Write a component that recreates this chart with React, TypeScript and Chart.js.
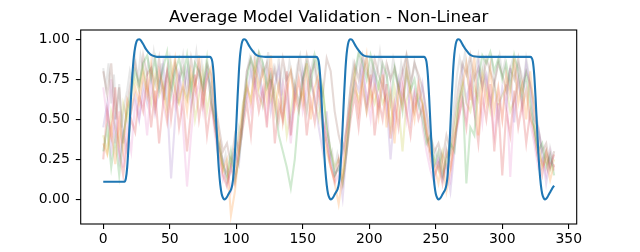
import React, { useEffect, useRef } from "react";
import { Chart, registerables } from "chart.js";

Chart.register(...registerables);

const TITLE = "Average Model Validation - Non-Linear";
const X_TICKS = [0, 50, 100, 150, 200, 250, 300, 350];
const Y_TICKS = [0, 0.25, 0.5, 0.75, 1.0];

// Averaged model output (blue line): x positions and values
const AVG_X = [
  0, 16, 17, 18, 19, 20, 21, 22, 23, 24, 25, 26, 27, 28, 30, 32, 34, 36, 39, 42,
  80, 81, 82, 83, 84, 85, 86, 87, 88, 89, 90, 91, 92, 93, 94, 95, 96, 97, 98, 99,
  100, 101, 102, 103, 104, 105, 106, 107, 108, 110, 112, 114, 116, 119, 122,
  160, 161, 162, 163, 164, 165, 166, 167, 168, 169, 170, 171, 172, 173, 174, 175, 176, 177, 178, 179,
  180, 181, 182, 183, 184, 185, 186, 187, 188, 190, 192, 194, 196, 199, 202,
  241, 242, 243, 244, 245, 246, 247, 248, 249, 250, 251, 252, 253, 254, 255, 256, 257, 258, 259, 260,
  261, 262, 263, 264, 265, 266, 267, 268, 269, 271, 273, 275, 277, 280, 283,
  321, 322, 323, 324, 325, 326, 327, 328, 329, 330, 331, 332, 333, 334, 335, 336, 337, 338, 339,
];
const AVG_Y = [
  0.11, 0.11, 0.13, 0.2, 0.33, 0.5, 0.66, 0.79, 0.89, 0.95, 0.985, 0.998, 1.0, 0.996, 0.97, 0.94, 0.918, 0.902, 0.893, 0.89,
  0.89, 0.885, 0.86, 0.78, 0.64, 0.47, 0.31, 0.18, 0.09, 0.035, 0.01, 0.0, 0.004, 0.015, 0.03, 0.045, 0.06, 0.09, 0.16, 0.29,
  0.46, 0.64, 0.8, 0.91, 0.97, 0.995, 1.0, 0.997, 0.985, 0.955, 0.93, 0.91, 0.898, 0.892, 0.89,
  0.89, 0.885, 0.86, 0.78, 0.64, 0.47, 0.31, 0.18, 0.09, 0.035, 0.01, 0.0, 0.004, 0.015, 0.03, 0.045, 0.06, 0.09, 0.16, 0.29,
  0.46, 0.64, 0.8, 0.91, 0.97, 0.995, 1.0, 0.997, 0.985, 0.955, 0.93, 0.91, 0.898, 0.892, 0.89,
  0.89, 0.885, 0.86, 0.78, 0.64, 0.47, 0.31, 0.18, 0.09, 0.035, 0.01, 0.0, 0.004, 0.015, 0.03, 0.045, 0.06, 0.09, 0.16, 0.29,
  0.46, 0.64, 0.8, 0.91, 0.97, 0.995, 1.0, 0.997, 0.985, 0.955, 0.93, 0.91, 0.898, 0.892, 0.89,
  0.89, 0.885, 0.86, 0.78, 0.64, 0.47, 0.31, 0.18, 0.09, 0.035, 0.01, 0.0, 0.004, 0.015, 0.03, 0.045, 0.06, 0.075, 0.085,
];

// Individual validation runs, sampled every 3 steps (x = 0, 3, ..., 339)
const SAMPLE_STEP = 3;
const RUN_ORANGE = [
  0.35, 0.28, 0.45, 0.22, 0.5, 0.3, 0.62, 0.55, 0.7, 0.6,
  0.78, 0.65, 0.85, 0.58, 0.8, 0.7, 0.5, 0.75, 0.88, 0.62,
  0.72, 0.55, 0.8, 0.68, 0.9, 0.6, 0.75, 0.82, 0.55, 0.4,
  0.18, 0.25, -0.1, 0.05, 0.3, 0.55, 0.72, 0.6, 0.85, 0.7,
  0.8, 0.62, 0.9, 0.55, 0.72, 0.48, 0.68, 0.8, 0.58, 0.75,
  0.6, 0.85, 0.5, 0.7, 0.78, 0.45, 0.3, 0.2, 0.1, -0.03,
  0.15, 0.4, 0.62, 0.8, 0.55, 0.75, 0.9, 0.6, 0.7, 0.52,
  0.78, 0.45, 0.65, 0.35, 0.7, 0.58, 0.82, 0.65, 0.5, 0.72,
  0.6, 0.45, 0.3, 0.2, 0.1, 0.25, 0.05, 0.18, 0.35, 0.55,
  0.7, 0.85, 0.62, 0.9, 0.4, 0.75, 0.6, 0.82, 0.55, 0.7,
  0.5, 0.78, 0.65, 0.88, 0.6, 0.72, 0.5, 0.8, 0.55, 0.35,
  0.2, 0.25, 0.12, 0.22,
];
const RUN_GREEN = [
  0.3, 0.45, 0.2, 0.38, 0.15, 0.4, 0.55, 0.68, 0.8, 0.72,
  0.85, 0.9, 0.75, 0.88, 0.7, 0.82, 0.92, 0.65, 0.8, 0.88,
  0.75, 0.9, 0.68, 0.85, 0.8, 0.7, 0.88, 0.6, 0.5, 0.35,
  0.22, 0.15, 0.3, 0.12, 0.25, 0.5, 0.75, 0.88, 0.8, 0.92,
  0.85, 0.7, 0.78, 0.6, 0.4, 0.3, 0.2, 0.07, 0.25, 0.55,
  0.75, 0.85, 0.7, 0.9, 0.8, 0.68, 0.45, 0.3, 0.15, 0.2,
  0.1, 0.3, 0.55, 0.78, 0.92, 0.85, 0.75, 0.9, 0.8, 0.7,
  0.85, 0.78, 0.6, 0.82, 0.7, 0.55, 0.8, 0.68, 0.75, 0.6,
  0.5, 0.35, 0.4, 0.22, 0.3, 0.15, 0.25, 0.35, 0.3, 0.6,
  0.7, 0.1, 0.45, 0.4, 0.75, 0.9, 0.85, 0.92, 0.8, 0.88,
  0.75, 0.85, 0.7, 0.9, 0.8, 0.65, 0.78, 0.6, 0.45, 0.3,
  0.35, 0.2, 0.28, 0.15,
];
const RUN_RED = [
  0.25, 0.55, 0.4, 0.7, 0.3, 0.15, 0.35, 0.5, 0.42, 0.65,
  0.55, 0.75, 0.45, 0.68, 0.35, 0.6, 0.8, 0.5, 0.7, 0.45,
  0.62, 0.3, 0.55, 0.78, 0.5, 0.68, 0.4, 0.6, 0.45, 0.3,
  0.15, 0.08, 0.2, 0.1, 0.28, 0.45, 0.6, 0.4, 0.72, 0.55,
  0.68, 0.45, 0.75, 0.35, 0.6, 0.5, 0.8, 0.4, 0.65, 0.55,
  0.72, 0.4, 0.62, 0.48, 0.7, 0.5, 0.35, 0.2, 0.12, 0.25,
  0.1, 0.3, 0.5, 0.65, 0.45, 0.7, 0.55, 0.78, 0.4, 0.62,
  0.5, 0.72, 0.38, 0.6, 0.45, 0.7, 0.55, 0.4, 0.65, 0.5,
  0.58, 0.4, 0.25, 0.15, 0.22, 0.1, 0.3, 0.2, 0.4, 0.5,
  0.62, 0.45, 0.7, 0.55, 0.35, 0.65, 0.5, 0.72, 0.3, 0.6,
  0.15, 0.55, 0.4, 0.68, 0.45, 0.6, 0.35, 0.55, 0.4, 0.25,
  0.15, 0.3, 0.2, 0.28,
];
const RUN_PURPLE = [
  0.45, 0.6, 0.3, 0.5, 0.25, 0.42, 0.3, 0.55, 0.65, 0.5,
  0.72, 0.6, 0.8, 0.55, 0.7, 0.85, 0.62, 0.13, 0.5, 0.78,
  0.65, 0.8, 0.58, 0.72, 0.85, 0.6, 0.78, 0.7, 0.5, 0.32,
  0.25, 0.1, 0.18, 0.3, 0.22, 0.5, 0.65, 0.8, 0.7, 0.85,
  0.6, 0.78, 0.55, 0.72, 0.82, 0.5, 0.68, 0.45, 0.7, 0.6,
  0.8, 0.55, 0.75, 0.62, 0.45, 0.3, 0.55, 0.25, 0.15, 0.2,
  0.01, 0.3, 0.6, 0.75, 0.68, 0.85, 0.6, 0.72, 0.8, 0.55,
  0.7, 0.6, 0.25, 0.55, 0.75, 0.62, 0.8, 0.5, 0.68, 0.58,
  0.72, 0.5, 0.3, 0.2, 0.25, 0.12, 0.2, 0.05, 0.3, 0.55,
  0.8, 0.62, 0.75, 0.55, 0.85, 0.7, 0.78, 0.6, 0.72, 0.5,
  0.7, 0.58, 0.82, 0.48, 0.75, 0.6, 0.85, 0.7, 0.5, 0.45,
  0.3, 0.1, 0.25, 0.2,
];
const RUN_BROWN = [
  0.8, 0.65, 0.85, 0.5, 0.7, 0.35, 0.6, 0.75, 0.85, 0.7,
  0.9, 0.78, 0.82, 0.72, 0.88, 0.65, 0.8, 0.7, 0.85, 0.75,
  0.82, 0.65, 0.88, 0.72, 0.8, 0.68, 0.85, 0.78, 0.6, 0.45,
  0.3, 0.35, 0.22, 0.4, 0.3, 0.55, 0.8, 0.88, 0.75, 0.9,
  0.78, 0.85, 0.7, 0.82, 0.68, 0.88, 0.75, 0.8, 0.65, 0.85,
  0.72, 0.9, 0.78, 0.85, 0.7, 0.65, 0.88, 0.8, 0.55, 0.4,
  0.3, 0.45, 0.7, 0.85, 0.75, 0.9, 0.8, 0.72, 0.88, 0.78,
  0.7, 0.85, 0.75, 0.82, 0.68, 0.8, 0.9, 0.72, 0.85, 0.78,
  0.7, 0.55, 0.4, 0.3, 0.35, 0.25, 0.4, 0.3, 0.5, 0.7,
  0.85, 0.78, 0.9, 0.75, 0.82, 0.7, 0.88, 0.8, 0.72, 0.85,
  0.78, 0.68, 0.82, 0.75, 0.88, 0.7, 0.8, 0.72, 0.6, 0.45,
  0.3, 0.35, 0.2, 0.3,
];
const RUN_PINK = [
  0.7, 0.5, 0.75, 0.35, 0.55, 0.2, 0.45, 0.3, 0.6, 0.5,
  0.65, 0.4, 0.72, 0.55, 0.8, 0.6, 0.48, 0.7, 0.58, 0.75,
  0.45, 0.08, 0.4, 0.65, 0.72, 0.55, 0.8, 0.62, 0.4, 0.25,
  0.12, 0.2, 0.05, 0.15, 0.35, 0.5, 0.68, 0.55, 0.75, 0.62,
  0.7, 0.5, 0.82, 0.6, 0.48, 0.72, 0.58, 0.35, 0.62, 0.75,
  0.55, 0.68, 0.8, 0.6, 0.72, 0.5, 0.4, 0.22, 0.1, 0.15,
  0.25, 0.45, 0.6, 0.72, 0.55, 0.8, 0.65, 0.5, 0.75, 0.6,
  0.82, 0.55, 0.7, 0.45, 0.62, 0.78, 0.5, 0.68, 0.55, 0.72,
  0.45, 0.3, 0.18, 0.1, 0.28, 0.15, 0.22, 0.12, 0.35, 0.48,
  0.65, 0.5, 0.78, 0.6, 0.7, 0.48, 0.75, 0.62, 0.4, 0.68,
  0.5, 0.72, 0.14, 0.6, 0.78, 0.55, 0.7, 0.48, 0.35, 0.2,
  0.25, 0.15, 0.3, 0.18,
];
const RUN_OLIVE = [
  0.4, 0.3, 0.55, 0.45, 0.35, 0.6, 0.5, 0.65, 0.75, 0.68,
  0.82, 0.7, 0.6, 0.78, 0.65, 0.72, 0.58, 0.85, 0.68, 0.6,
  0.7, 0.62, 0.75, 0.5, 0.65, 0.8, 0.55, 0.7, 0.45, 0.3,
  0.2, 0.12, 0.25, 0.18, 0.4, 0.6, 0.7, 0.62, 0.8, 0.65,
  0.58, 0.75, 0.62, 0.7, 0.5, 0.65, 0.4, 0.55, 0.72, 0.6,
  0.68, 0.55, 0.75, 0.62, 0.5, 0.7, 0.45, 0.3, 0.2, 0.25,
  0.15, 0.35, 0.58, 0.7, 0.62, 0.75, 0.55, 0.68, 0.6, 0.72,
  0.6, 0.65, 0.45, 0.7, 0.58, 0.3, 0.62, 0.7, 0.55, 0.65,
  0.6, 0.42, 0.3, 0.25, 0.18, 0.3, 0.2, 0.28, 0.45, 0.62,
  0.75, 0.6, 0.55, 0.7, 0.62, 0.8, 0.68, 0.55, 0.72, 0.6,
  0.65, 0.7, 0.55, 0.62, 0.75, 0.58, 0.68, 0.5, 0.45, 0.3,
  0.22, 0.3, 0.18, 0.25,
];
// One run sampled every 2 steps (x = 0, 2, ..., 338)
const FINE_STEP = 2;
const RUN_GRAY = [
  0.82, 0.7, 0.85, 0.6, 0.78, 0.5, 0.72, 0.45, 0.6, 0.68,
  0.8, 0.72, 0.88, 0.75, 0.9, 0.82, 0.7, 0.86, 0.78, 0.92,
  0.8, 0.7, 0.85, 0.62, 0.78, 0.88, 0.72, 0.84, 0.6, 0.8,
  0.9, 0.75, 0.85, 0.68, 0.8, 0.92, 0.76, 0.85, 0.7, 0.82,
  0.75, 0.6, 0.45, 0.3, 0.35, 0.2, 0.28, 0.15, 0.22, 0.3,
  0.25, 0.45, 0.4, 0.65, 0.8, 0.88, 0.75, 0.9, 0.82, 0.7,
  0.85, 0.78, 0.92, 0.7, 0.82, 0.75, 0.88, 0.65, 0.8, 0.72,
  0.86, 0.78, 0.7, 0.84, 0.9, 0.75, 0.82, 0.68, 0.8, 0.88,
  0.75, 0.6, 0.5, 0.35, 0.4, 0.25, 0.3, 0.18, 0.28, 0.2,
  0.35, 0.3, 0.55, 0.7, 0.85, 0.78, 0.9, 0.72, 0.82, 0.88,
  0.75, 0.85, 0.7, 0.8, 0.92, 0.78, 0.65, 0.82, 0.75, 0.88,
  0.8, 0.7, 0.85, 0.76, 0.9, 0.82, 0.72, 0.86, 0.78, 0.7,
  0.6, 0.45, 0.35, 0.4, 0.25, 0.3, 0.2, 0.28, 0.15, 0.32,
  0.25, 0.45, 0.6, 0.78, 0.88, 0.8, 0.92, 0.75, 0.85, 0.7,
  0.82, 0.9, 0.76, 0.85, 0.7, 0.8, 0.88, 0.74, 0.82, 0.9,
  0.78, 0.86, 0.7, 0.82, 0.88, 0.75, 0.85, 0.8, 0.72, 0.88,
  0.78, 0.6, 0.45, 0.3, 0.38, 0.22, 0.3, 0.2, 0.32, 0.25,
];

const RUNS: [number[], number, string][] = [
  [RUN_ORANGE, SAMPLE_STEP, "rgba(255,127,14,0.22)"],
  [RUN_GREEN, SAMPLE_STEP, "rgba(44,160,44,0.22)"],
  [RUN_RED, SAMPLE_STEP, "rgba(214,39,40,0.22)"],
  [RUN_PURPLE, SAMPLE_STEP, "rgba(148,103,189,0.22)"],
  [RUN_BROWN, SAMPLE_STEP, "rgba(140,86,75,0.22)"],
  [RUN_PINK, SAMPLE_STEP, "rgba(227,119,194,0.22)"],
  [RUN_GRAY, FINE_STEP, "rgba(127,127,127,0.18)"],
  [RUN_OLIVE, SAMPLE_STEP, "rgba(188,189,34,0.22)"],
];

const FONT = "DejaVu Sans";

const framePlugin = {
  id: "mplFrame",
  afterDraw(chart: any) {
    const { ctx, chartArea } = chart;
    ctx.save();
    ctx.strokeStyle = "#000";
    ctx.lineWidth = 1.1;
    ctx.strokeRect(
      chartArea.left,
      chartArea.top,
      chartArea.right - chartArea.left,
      chartArea.bottom - chartArea.top
    );
    ctx.font = `16.7px "${FONT}"`;
    ctx.fillStyle = "#000";
    ctx.textAlign = "center";
    ctx.textBaseline = "alphabetic";
    ctx.fillText(TITLE, (chartArea.left + chartArea.right) / 2, chartArea.top - 8.3);
    ctx.restore();
  },
};

export default function App() {
  const ref = useRef<HTMLCanvasElement>(null);
  useEffect(() => {
    const runDatasets = RUNS.map(([vals, step, color]) => ({
      data: vals.map((v, i) => ({ x: i * step, y: v })),
      borderColor: color,
      borderWidth: 2.1,
      pointRadius: 0,
      tension: 0,
      fill: false,
    }));
    const avgDataset = {
      data: AVG_X.map((x, i) => ({ x, y: AVG_Y[i] })),
      borderColor: "#1f77b4",
      borderWidth: 2.1,
      pointRadius: 0,
      cubicInterpolationMode: "monotone" as const,
      fill: false,
    };
    const tickFont = { family: FONT, size: 13.9 };
    const chart = new Chart(ref.current!, {
      type: "line",
      data: { datasets: [avgDataset, ...runDatasets] as any },
      plugins: [framePlugin],
      options: {
        animation: false,
        responsive: false,
        devicePixelRatio: 1,
        layout: { padding: { top: 30, right: 63.3, left: 0, bottom: 0 } },
        plugins: { legend: { display: false }, title: { display: false }, tooltip: { enabled: false } },
        scales: {
          x: {
            type: "linear",
            min: -16.95,
            max: 355.95,
            afterBuildTicks: (s: any) => {
              s.ticks = X_TICKS.map((v) => ({ value: v }));
            },
            afterFit: (s: any) => {
              s.height = 28;
            },
            ticks: {
              color: "#000",
              font: tickFont,
              padding: 2.5,
              maxRotation: 0,
              autoSkip: false,
              callback: (v: any) => String(v),
            },
            grid: { display: true, drawOnChartArea: false, drawTicks: true, tickLength: 4.9, color: "#000", lineWidth: 1.1 },
            border: { display: false },
          },
          y: {
            type: "linear",
            min: -0.154,
            max: 1.058,
            afterBuildTicks: (s: any) => {
              s.ticks = Y_TICKS.map((v) => ({ value: v }));
            },
            afterFit: (s: any) => {
              s.width = 80.7;
            },
            ticks: {
              color: "#000",
              font: tickFont,
              padding: 6,
              autoSkip: false,
              callback: (v: any) => Number(v).toFixed(2),
            },
            grid: { display: true, drawOnChartArea: false, drawTicks: true, tickLength: 4.9, color: "#000", lineWidth: 1.1 },
            border: { display: false },
          },
        },
      },
    });
    return () => chart.destroy();
  }, []);
  return (
    <div style={{ position: "absolute", left: 0, top: 0, width: 640, height: 252, background: "#fff" }}>
      <canvas ref={ref} width={640} height={252} style={{ display: "block", width: 640, height: 252 }} />
    </div>
  );
}
